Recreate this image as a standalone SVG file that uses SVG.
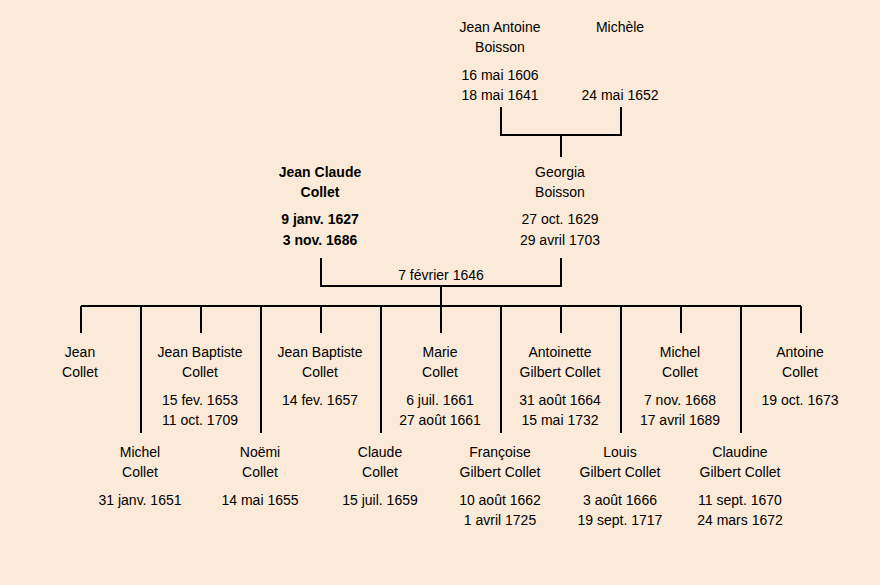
<svg xmlns="http://www.w3.org/2000/svg" width="880" height="585" viewBox="0 0 880 585">
<style>
text{font-family:"Liberation Sans",Arial,sans-serif;font-size:14px;fill:#000;text-anchor:middle}
.b{font-weight:bold}
.ln{stroke:#000;stroke-width:2;fill:none}
</style>
<rect x="0" y="0" width="880" height="585" fill="#FCEAD8"/>
<g id="connectors">
<path class="ln" d="M501,107V135H621V107M561,135V157"/>
<path class="ln" d="M321,258V286H561V258M441,286V306"/>
<path class="ln" d="M81,306H801"/>
<path class="ln" d="M81,306V333M201,306V333M321,306V333M441,306V333M561,306V333M681,306V333M801,306V333"/>
<path class="ln" d="M141,306V433M261,306V433M381,306V433M501,306V433M621,306V433M741,306V433"/>
<text x="441" y="280">7 février 1646</text>
</g>
<g id="jean-antoine-boisson"><text x="500" y="32">Jean Antoine</text><text x="500" y="52">Boisson</text><text x="500" y="80">16 mai 1606</text><text x="500" y="100">18 mai 1641</text></g>
<g id="michele"><text x="620" y="32">Michèle</text><text x="620" y="100">24 mai 1652</text></g>
<g id="jean-claude-collet"><text class="b" x="320" y="177">Jean Claude</text><text class="b" x="320" y="197">Collet</text><text class="b" x="320" y="224">9 janv. 1627</text><text class="b" x="320" y="245">3 nov. 1686</text></g>
<g id="georgia-boisson"><text x="560" y="177">Georgia</text><text x="560" y="197">Boisson</text><text x="560" y="224">27 oct. 1629</text><text x="560" y="245">29 avril 1703</text></g>
<g id="jean-collet"><text x="80" y="357">Jean</text><text x="80" y="377">Collet</text></g>
<g id="jean-baptiste-collet-1"><text x="200" y="357">Jean Baptiste</text><text x="200" y="377">Collet</text><text x="200" y="405">15 fev. 1653</text><text x="200" y="425">11 oct. 1709</text></g>
<g id="jean-baptiste-collet-2"><text x="320" y="357">Jean Baptiste</text><text x="320" y="377">Collet</text><text x="320" y="405">14 fev. 1657</text></g>
<g id="marie-collet"><text x="440" y="357">Marie</text><text x="440" y="377">Collet</text><text x="440" y="405">6 juil. 1661</text><text x="440" y="425">27 août 1661</text></g>
<g id="antoinette-gilbert-collet"><text x="560" y="357">Antoinette</text><text x="560" y="377">Gilbert Collet</text><text x="560" y="405">31 août 1664</text><text x="560" y="425">15 mai 1732</text></g>
<g id="michel-collet-2"><text x="680" y="357">Michel</text><text x="680" y="377">Collet</text><text x="680" y="405">7 nov. 1668</text><text x="680" y="425">17 avril 1689</text></g>
<g id="antoine-collet"><text x="800" y="357">Antoine</text><text x="800" y="377">Collet</text><text x="800" y="405">19 oct. 1673</text></g>
<g id="michel-collet-1"><text x="140" y="457">Michel</text><text x="140" y="477">Collet</text><text x="140" y="505">31 janv. 1651</text></g>
<g id="noemi-collet"><text x="260" y="457">Noëmi</text><text x="260" y="477">Collet</text><text x="260" y="505">14 mai 1655</text></g>
<g id="claude-collet"><text x="380" y="457">Claude</text><text x="380" y="477">Collet</text><text x="380" y="505">15 juil. 1659</text></g>
<g id="francoise-gilbert-collet"><text x="500" y="457">Françoise</text><text x="500" y="477">Gilbert Collet</text><text x="500" y="505">10 août 1662</text><text x="500" y="525">1 avril 1725</text></g>
<g id="louis-gilbert-collet"><text x="620" y="457">Louis</text><text x="620" y="477">Gilbert Collet</text><text x="620" y="505">3 août 1666</text><text x="620" y="525">19 sept. 1717</text></g>
<g id="claudine-gilbert-collet"><text x="740" y="457">Claudine</text><text x="740" y="477">Gilbert Collet</text><text x="740" y="505">11 sept. 1670</text><text x="740" y="525">24 mars 1672</text></g>
</svg>
